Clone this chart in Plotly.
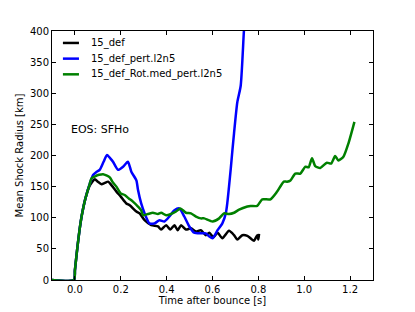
import plotly.graph_objects as go

# 15_def
x_def = [-0.1, -0.004, 0.0, 0.01, 0.02, 0.03, 0.045, 0.065, 0.087, 0.1, 0.116, 0.13, 0.145, 0.16,
         0.181, 0.2, 0.224, 0.239, 0.268, 0.282, 0.304, 0.333, 0.362, 0.376, 0.398, 0.416, 0.434,
         0.448, 0.463, 0.484, 0.506, 0.528, 0.549, 0.571, 0.586, 0.604, 0.622, 0.643, 0.672, 0.694,
         0.708, 0.73, 0.752, 0.781, 0.795, 0.80, 0.803]
y_def = [0, 0, 16, 50, 80, 104, 130, 152, 162, 158, 154, 156, 158, 152,
         142, 134, 123, 120, 110, 107, 96, 88, 86, 81, 88, 81, 88,
         80, 88, 81, 83, 78, 80, 72, 76, 68.5, 76, 67, 79, 72,
         65, 72, 71, 63, 72, 65, 74]

# 15_def_pert.l2n5
x_pert = [-0.1, -0.004, 0.0, 0.01, 0.02, 0.03, 0.045, 0.065, 0.08, 0.095, 0.108, 0.125, 0.14, 0.155,
          0.166, 0.188, 0.21, 0.231, 0.246, 0.268, 0.275, 0.289, 0.304, 0.325, 0.347, 0.369, 0.39,
          0.412, 0.434, 0.455, 0.477, 0.499, 0.52, 0.549, 0.571, 0.586, 0.6, 0.61, 0.622, 0.643,
          0.658, 0.665, 0.672, 0.68, 0.687, 0.694, 0.708, 0.723, 0.737, 0.745]
y_pert = [0, 0, 16, 50, 80, 104, 130, 155, 169, 174, 177, 190, 201, 195,
          190, 177, 182, 190, 174, 160, 145, 123, 107, 91, 91, 96, 94,
          102, 112, 115, 102, 86, 76, 75, 75, 70, 67, 72, 80, 91,
          107, 125, 150, 180, 209, 236, 285, 312, 400, 440]

# 15_def_Rot.med_pert.l2n5
x_rot = [-0.1, -0.004, 0.0, 0.01, 0.02, 0.03, 0.045, 0.065, 0.072, 0.09, 0.105, 0.123, 0.137, 0.152,
         0.165, 0.181, 0.2, 0.217, 0.235, 0.253, 0.275, 0.289, 0.297, 0.318, 0.34, 0.362, 0.376,
         0.398, 0.419, 0.441, 0.46, 0.484, 0.506, 0.528, 0.549, 0.564, 0.6, 0.629, 0.65, 0.672,
         0.694, 0.716, 0.752, 0.766, 0.795, 0.817, 0.853, 0.882, 0.911, 0.925, 0.94, 0.961, 0.983,
         1.005, 1.019, 1.034, 1.048, 1.07, 1.099, 1.117, 1.135, 1.149, 1.171, 1.193, 1.219]
y_rot = [0, 0, 16, 50, 80, 104, 130, 155, 163, 167, 169, 170, 168, 165,
         157, 150, 139, 136.5, 131, 126, 118, 112, 104, 106, 108, 106, 108,
         104, 106, 110, 115, 108, 107, 102, 99, 99, 94, 99, 107, 106,
         108, 113, 118, 119, 119, 129.6, 129.6, 142, 158, 158, 160, 171, 171,
         182, 181, 195.5, 183, 180, 188.5, 187, 199, 192, 198, 219.6, 254]

names = ["15_def", "15_def_pert.l2n5", "15_def_Rot.med_pert.l2n5"]
colors = ["#000000", "#0000ff", "#008000"]

x_ticks = [0.0, 0.2, 0.4, 0.6, 0.8, 1.0, 1.2]
x_ticklabels = ["0.0", "0.2", "0.4", "0.6", "0.8", "1.0", "1.2"]
y_ticks = [0, 50, 100, 150, 200, 250, 300, 350, 400]

font = "DejaVu Sans"

fig = go.Figure()
for xs, ys, nm, c in zip([x_def, x_pert, x_rot], [y_def, y_pert, y_rot], names, colors):
    fig.add_trace(go.Scatter(x=xs, y=ys, mode="lines", name=nm, showlegend=False,
                             line=dict(color=c, width=2.5, shape="spline", smoothing=0.6)))

axis_common = dict(showline=True, linecolor="black", linewidth=1, mirror="allticks",
                   ticks="inside", ticklen=4, tickcolor="black", showgrid=False, zeroline=False,
                   automargin=False,
                   tickfont=dict(family=font, size=10, color="black"))

# legend drawn as key lines + labels in the top-left corner of the axes
shapes = []
annotations = []
leg_x0, leg_x1, leg_tx = 0.034, 0.084, 0.115
leg_y0, leg_dy = 0.952, 0.063
for i, (nm, c) in enumerate(zip(names, colors)):
    yy = leg_y0 - i * leg_dy
    shapes.append(dict(type="line", xref="paper", yref="paper", x0=leg_x0, x1=leg_x1, y0=yy, y1=yy,
                       line=dict(color=c, width=2.5)))
    annotations.append(dict(x=leg_tx, y=yy, xref="paper", yref="paper", text=nm, showarrow=False,
                            xanchor="left", yanchor="middle",
                            font=dict(family=font, size=10, color="black")))

annotations.append(dict(x=-0.027, y=241, xref="x", yref="y", text="EOS: SFHo", showarrow=False,
                        xanchor="left", yanchor="middle", font=dict(family=font, size=11, color="black")))

# the page body keeps an 8px default margin, so the figure is 8px smaller than the window
fig.update_layout(
    width=407, height=304,
    margin=dict(l=44, r=42, t=23, b=32),
    paper_bgcolor="white", plot_bgcolor="white",
    font=dict(family=font, size=10, color="black"),
    xaxis=dict(range=[-0.1, 1.3], tickvals=x_ticks, ticktext=x_ticklabels,
               title=dict(text="Time after bounce [s]", font=dict(family=font, size=10), standoff=2),
               **axis_common),
    yaxis=dict(range=[0, 400], tickvals=y_ticks,
               title=dict(text="Mean Shock Radius [km]", font=dict(family=font, size=10), standoff=4),
               **axis_common),
    showlegend=False,
    shapes=shapes,
    annotations=annotations,
)

fig.write_html("out.html")
